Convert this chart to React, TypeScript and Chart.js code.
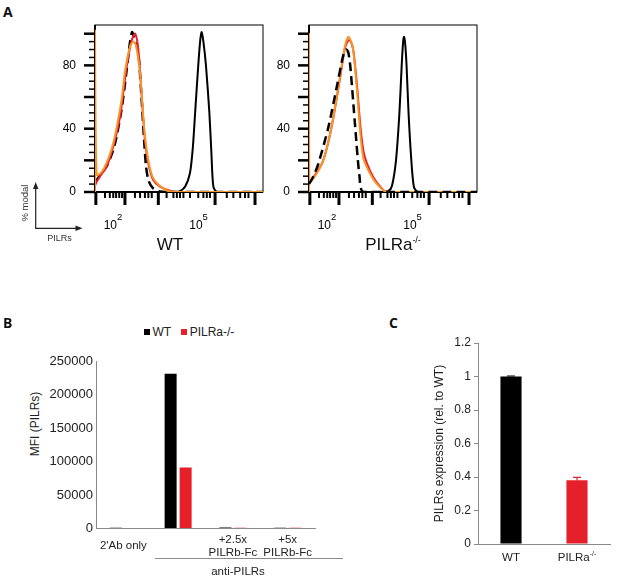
import React, { useEffect, useRef } from 'react';
import { Chart, registerables } from 'chart.js';

Chart.register(...registerables);

const FONT = "'Liberation Sans', Arial, sans-serif";
Chart.defaults.font.family = FONT;

// ---------------- Panel A: flow cytometry histograms ----------------
// x values are log10 fluorescence (decades), y values are % of modal
const histXMin = 1.37;
const histXMax = 7.26;
const histYMax = 105.5;
const histXTickValues = [2, 5];
const histXTickBases = ['10', '10'];
const histXTickExponents = ['2', '5'];
const histYTickValues = [0, 40, 80];
const histYMajorMarks = [0, 20, 40, 60, 80, 100];
const histYMinorMarks = [5, 10, 15, 25, 30, 35, 45, 50, 55, 65, 70, 75, 85, 90, 95];
const histXMajorMarks = [1.4, 2.42, 3.59, 5.58, 6.98];
const histXMinorMarks = [1.72, 1.89, 2.01, 2.11, 2.22, 2.32, 2.77, 2.95, 3.12, 3.24, 3.36, 3.88, 4.12, 4.24, 4.35, 4.47, 4.7, 4.99, 5.17, 5.29, 5.4, 5.99, 6.22, 6.46, 6.63, 6.75];

// WT
const wtIsoX = [1.37, 1.6, 1.8, 2.05, 2.3, 2.5, 2.6, 2.67, 2.74, 2.82, 2.9, 3.0, 3.08, 3.16, 3.25, 3.4, 3.6, 3.9, 7.26];
const wtIsoY = [6, 12, 17, 29, 52, 80, 95, 101, 98, 94, 86, 60, 36, 16, 7, 2.5, 0.5, 0, 0];
const wtAntiX = [1.37, 4.0, 4.3, 4.53, 4.7, 4.8, 4.88, 4.99, 5.06, 5.11, 5.17, 5.26, 5.38, 5.45, 5.52, 5.65, 7.26];
const wtAntiY = [0, 0, 0, 3.4, 12, 28, 50, 80, 96, 101, 95, 80, 50, 25, 3.4, 0, 0];
const wtBlock25X = [1.37, 1.43, 1.54, 1.78, 2.01, 2.25, 2.48, 2.66, 2.78, 2.89, 3.0, 3.12, 3.24, 3.41, 3.65, 4.0, 4.3, 7.26];
const wtBlock25Y = [4, 6.5, 9.7, 16, 28.7, 47.7, 79, 96, 100, 90, 62.6, 33, 18, 7.6, 3.4, 0.8, 0, 0];
const wtBlock5X = [1.37, 1.37, 1.43, 1.66, 2.01, 2.3, 2.42, 2.6, 2.71, 2.8, 2.95, 3.09, 3.24, 3.41, 3.76, 4.1, 7.26];
const wtBlock5Y = [0, 102, 10.8, 14, 30.8, 58, 76, 92, 95, 93, 75, 41, 20, 8.7, 2.3, 0, 0];

// PILRa-/-
const koIsoX = [1.37, 1.5, 1.7, 2.05, 2.35, 2.58, 2.68, 2.75, 2.82, 2.99, 3.14, 3.28, 7.26];
const koIsoY = [5, 9, 18, 41, 67, 87, 90, 88, 79, 41, 10, 0, 0];
const koAntiX = [1.37, 3.9, 4.15, 4.28, 4.42, 4.54, 4.62, 4.67, 4.7, 4.74, 4.79, 4.86, 4.95, 5.05, 5.2, 7.26];
const koAntiY = [0, 0, 0.5, 4, 20, 50, 80, 95, 98, 94, 80, 50, 22, 3, 0, 0];
const koBlock25X = [1.37, 1.55, 1.85, 2.15, 2.45, 2.62, 2.72, 2.8, 2.92, 3.05, 3.18, 3.3, 3.52, 3.75, 4.1, 7.26];
const koBlock25Y = [6, 10, 19, 40, 71, 90, 95, 96, 90, 68, 40, 24, 13, 6, 0, 0];
const koBlock5X = [1.37, 1.37, 1.38, 1.58, 1.87, 2.16, 2.46, 2.63, 2.75, 2.9, 3.04, 3.17, 3.28, 3.5, 3.73, 4.09, 7.26];
const koBlock5Y = [0, 100, 6.5, 10, 20, 41, 73, 92, 98, 92, 67, 37, 21, 12, 5.5, 0, 0];

const RED = '#E5202A';
const ORANGE = '#F5962A';

type Curve = { x: number[]; y: number[]; color: string; width: number; dash?: number[] };

const wtCurves: Curve[] = [
  { x: wtBlock5X, y: wtBlock5Y, color: ORANGE, width: 2 },
  { x: wtBlock25X, y: wtBlock25Y, color: RED, width: 2 },
  { x: wtIsoX, y: wtIsoY, color: '#000', width: 2.5, dash: [9, 5] },
  { x: wtAntiX, y: wtAntiY, color: '#000', width: 2 },
];
const koCurves: Curve[] = [
  { x: koIsoX, y: koIsoY, color: '#000', width: 2.5, dash: [9, 5] },
  { x: koBlock5X, y: koBlock5Y, color: ORANGE, width: 2 },
  { x: koBlock25X, y: koBlock25Y, color: RED, width: 2 },
  { x: koAntiX, y: koAntiY, color: '#000', width: 2 },
];

const histFramePlugin = {
  id: 'histFrame',
  beforeDatasetsDraw(chart: any) {
    const { ctx, chartArea: a, scales } = chart;
    const xs = scales.x;
    const ys = scales.y;
    const seg = (x1: number, y1: number, x2: number, y2: number, w: number) => {
      ctx.lineWidth = w;
      ctx.beginPath();
      ctx.moveTo(x1, y1);
      ctx.lineTo(x2, y2);
      ctx.stroke();
    };
    ctx.save();
    ctx.strokeStyle = '#000';
    ctx.lineWidth = 1;
    ctx.strokeRect(a.left, a.top, a.right - a.left, a.bottom - a.top);
    seg(a.left, a.top, a.left, a.bottom + 1, 2);
    seg(a.left - 1, a.bottom, a.right, a.bottom, 2);
    histYMajorMarks.forEach((v) => {
      const p = ys.getPixelForValue(v);
      seg(a.left - 11, p, a.left, p, 2.5);
    });
    histYMinorMarks.forEach((v) => {
      const p = ys.getPixelForValue(v);
      seg(a.left - 6, p, a.left, p, 1.5);
    });
    histXMajorMarks.forEach((v) => {
      const p = xs.getPixelForValue(v);
      seg(p, a.bottom, p, a.bottom + 13, 3);
    });
    histXMinorMarks.forEach((v) => {
      const p = xs.getPixelForValue(v);
      seg(p, a.bottom, p, a.bottom + 6, 2);
    });
    // decade labels with raised exponents
    ctx.fillStyle = '#000';
    ctx.textBaseline = 'middle';
    ctx.textAlign = 'left';
    histXTickValues.forEach((v, i) => {
      const p = xs.getPixelForValue(v);
      ctx.font = `12px ${FONT}`;
      const wb = ctx.measureText(histXTickBases[i]).width;
      ctx.font = `9.5px ${FONT}`;
      const we = ctx.measureText(histXTickExponents[i]).width;
      const start = p - (wb + we) / 2;
      const yMid = a.bottom + 34;
      ctx.font = `12px ${FONT}`;
      ctx.fillText(histXTickBases[i], start, yMid);
      ctx.font = `9.5px ${FONT}`;
      ctx.fillText(histXTickExponents[i], start + wb, yMid - 8.5);
    });
    ctx.restore();
  },
};

function Histogram({ left, top, curves }: { left: number; top: number; curves: Curve[] }) {
  const ref = useRef<HTMLCanvasElement>(null);
  useEffect(() => {
    const chart = new Chart(ref.current as HTMLCanvasElement, {
      type: 'line',
      data: {
        datasets: curves.map((c) => ({
          data: c.x.map((x, i) => ({ x, y: c.y[i] })),
          borderColor: c.color,
          borderWidth: c.width,
          borderDash: c.dash || [],
          pointRadius: 0,
          tension: 0.25,
          fill: false,
        })),
      },
      options: {
        animation: false,
        responsive: false,
        maintainAspectRatio: false,
        layout: { padding: { top: 15, right: 17, left: 0, bottom: 0 } },
        plugins: { legend: { display: false }, tooltip: { enabled: false } },
        scales: {
          x: {
            type: 'linear',
            min: histXMin,
            max: histXMax,
            grid: { display: false, drawTicks: false },
            border: { display: false },
            afterFit: (s: any) => {
              s.height = 43;
            },
            ticks: { display: false },
          },
          y: {
            type: 'linear',
            min: 0,
            max: histYMax,
            grid: { display: false, drawTicks: true, tickLength: 16, tickColor: 'rgba(0,0,0,0)' },
            border: { display: false },
            afterBuildTicks: (s: any) => {
              s.ticks = histYTickValues.map((v) => ({ value: v }));
            },
            afterFit: (s: any) => {
              s.width = 55;
            },
            ticks: {
              autoSkip: false,
              padding: 3,
              color: '#000',
              font: { size: 12 },
              callback: (v: any) => String(v),
            },
          },
        },
      } as any,
      plugins: [histFramePlugin],
    });
    return () => chart.destroy();
  }, []);
  return (
    <canvas
      ref={ref}
      width={240}
      height={225}
      style={{ position: 'absolute', left, top, width: 240, height: 225 }}
    />
  );
}

// ---------------- Panel B: MFI bar chart ----------------
const mfiCategories = [["2'Ab only"], [''], ['+2.5x', 'PILRb-Fc'], ['+5x', 'PILRb-Fc']];
const mfiWT = [1000, 231000, 1500, 1200];
const mfiKO = [800, 91000, 1300, 1000];
const mfiMax = 250000;
const mfiStep = 50000;
const mfiSeriesNames = ['WT', 'PILRa-/-'];

const AXIS_GRAY = '#8a8a8a';
const TEXT = '#222';

function MfiChart() {
  const ref = useRef<HTMLCanvasElement>(null);
  useEffect(() => {
    const chart = new Chart(ref.current as HTMLCanvasElement, {
      type: 'bar',
      data: {
        labels: mfiCategories as any,
        datasets: [
          { label: mfiSeriesNames[0], data: mfiWT, backgroundColor: '#000' },
          { label: mfiSeriesNames[1], data: mfiKO, backgroundColor: RED },
        ],
      },
      options: {
        animation: false,
        responsive: false,
        maintainAspectRatio: false,
        categoryPercentage: 0.548,
        barPercentage: 0.8,
        layout: { padding: { top: 11, right: 45, left: 0, bottom: 0 } },
        plugins: { legend: { display: false }, tooltip: { enabled: false } },
        scales: {
          x: {
            grid: { display: true, drawOnChartArea: false, drawTicks: false },
            border: { display: true, color: AXIS_GRAY, width: 1 },
            afterFit: (s: any) => {
              s.height = 33.5;
            },
            ticks: {
              autoSkip: false,
              maxRotation: 0,
              padding: 11,
              crossAlign: 'center',
              color: TEXT,
              font: { size: 11.5, lineHeight: 1.13 },
            },
          },
          y: {
            min: 0,
            max: mfiMax,
            grid: { display: true, drawOnChartArea: false, drawTicks: false },
            border: { display: true, color: AXIS_GRAY, width: 1 },
            afterFit: (s: any) => {
              s.width = 96;
            },
            ticks: {
              stepSize: mfiStep,
              padding: 3,
              color: TEXT,
              font: { size: 13 },
              callback: (v: any) => String(v),
            },
          },
        },
      } as any,
    });
    return () => chart.destroy();
  }, []);
  return (
    <canvas
      ref={ref}
      width={360}
      height={212}
      style={{ position: 'absolute', left: 0, top: 350, width: 360, height: 212 }}
    />
  );
}

// ---------------- Panel C: relative expression ----------------
const relCategories = ['WT', 'PILRa'];
const relSuperscripts = ['', '-/-'];
const relValues = [1.0, 0.38];
const relErrors = [0.003, 0.018];
const relColors = ['#000', RED];
const relMax = 1.2;
const relStep = 0.2;
const relTitle = 'PILRs expression (rel. to WT)';

const relExtrasPlugin = {
  id: 'relExtras',
  afterDatasetsDraw(chart: any) {
    const { ctx, scales } = chart;
    const ys = scales.y;
    const xs = scales.x;
    const meta = chart.getDatasetMeta(0);
    ctx.save();
    meta.data.forEach((bar: any, i: number) => {
      const top = ys.getPixelForValue(relValues[i] + relErrors[i]);
      ctx.strokeStyle = relColors[i];
      ctx.lineWidth = 1.2;
      ctx.beginPath();
      ctx.moveTo(bar.x, bar.y);
      ctx.lineTo(bar.x, top);
      ctx.moveTo(bar.x - 4, top);
      ctx.lineTo(bar.x + 4, top);
      ctx.stroke();
    });
    ctx.fillStyle = TEXT;
    ctx.textBaseline = 'middle';
    ctx.textAlign = 'left';
    relCategories.forEach((cat, i) => {
      const cx = xs.getPixelForValue(i);
      const yMid = xs.top + 14;
      ctx.font = `11.5px ${FONT}`;
      const w1 = ctx.measureText(cat).width;
      ctx.font = `7px ${FONT}`;
      const w2 = relSuperscripts[i] ? ctx.measureText(relSuperscripts[i]).width : 0;
      const start = cx - (w1 + w2) / 2;
      ctx.font = `11.5px ${FONT}`;
      ctx.fillText(cat, start, yMid);
      if (relSuperscripts[i]) {
        ctx.font = `7px ${FONT}`;
        ctx.fillText(relSuperscripts[i], start + w1, yMid - 4);
      }
    });
    ctx.restore();
  },
};

function RelChart() {
  const ref = useRef<HTMLCanvasElement>(null);
  useEffect(() => {
    const chart = new Chart(ref.current as HTMLCanvasElement, {
      type: 'bar',
      data: {
        labels: relCategories,
        datasets: [{ data: relValues, backgroundColor: relColors }],
      },
      options: {
        animation: false,
        responsive: false,
        maintainAspectRatio: false,
        categoryPercentage: 1,
        barPercentage: 0.32,
        layout: { padding: { top: 13, right: 7, left: 0, bottom: 0 } },
        plugins: { legend: { display: false }, tooltip: { enabled: false } },
        scales: {
          x: {
            grid: { display: true, drawOnChartArea: false, drawTicks: false },
            border: { display: true, color: AXIS_GRAY, width: 1 },
            ticks: { display: false },
            afterFit: (s: any) => {
              s.height = 26;
            },
          },
          y: {
            min: 0,
            max: relMax,
            grid: { display: true, drawOnChartArea: false, drawTicks: true, tickLength: 4, tickColor: AXIS_GRAY },
            border: { display: true, color: AXIS_GRAY, width: 1 },
            afterFit: (s: any) => {
              s.width = 78;
            },
            title: {
              display: true,
              text: relTitle,
              color: TEXT,
              font: { size: 12 },
              padding: { top: 32, bottom: 0 },
            },
            ticks: {
              stepSize: relStep,
              padding: 3,
              color: TEXT,
              font: { size: 12 },
              callback: (v: any) => String(Math.round(Number(v) * 10) / 10),
            },
          },
        },
      } as any,
      plugins: [relExtrasPlugin],
    });
    return () => chart.destroy();
  }, []);
  return (
    <canvas
      ref={ref}
      width={217}
      height={240}
      style={{ position: 'absolute', left: 400, top: 330, width: 217, height: 240 }}
    />
  );
}

// ---------------- Layout helpers ----------------
const centered = (cx: number, cy: number, extra: React.CSSProperties = {}): React.CSSProperties => ({
  position: 'absolute',
  left: cx,
  top: cy,
  transform: 'translate(-50%, -50%)',
  whiteSpace: 'nowrap',
  lineHeight: 1,
  ...extra,
});

const letterStyle = (left: number, top: number): React.CSSProperties => ({
  position: 'absolute',
  left,
  top,
  fontFamily: "'Open Sans', sans-serif",
  fontWeight: 700,
  fontSize: 14,
  lineHeight: '14px',
  color: '#111',
});

export default function App() {
  return (
    <div
      style={{
        position: 'absolute',
        left: 0,
        top: 0,
        width: 617,
        height: 579,
        background: '#fff',
        fontFamily: FONT,
        overflow: 'hidden',
      }}
    >
      {/* Panel A */}
      <div style={letterStyle(3, 5)}>A</div>
      <Histogram left={40} top={10} curves={wtCurves} />
      <Histogram left={254} top={10} curves={koCurves} />
      <div style={centered(170, 244, { fontSize: 17, color: '#111' })}>WT</div>
      <div style={centered(393, 244, { fontSize: 17, color: '#111' })}>
        PILRa
        <span style={{ fontSize: 9, position: 'relative', top: -7 }}>-/-</span>
      </div>
      <svg
        width={100}
        height={60}
        style={{ position: 'absolute', left: 0, top: 178 }}
        viewBox="0 0 100 60"
      >
        <line x1={35.7} y1={50.3} x2={35.7} y2={7} stroke="#222" strokeWidth={1.2} />
        <polygon points="35.7,4 33,11 38.4,11" fill="#222" />
        <line x1={35.1} y1={50.3} x2={79} y2={50.3} stroke="#222" strokeWidth={1.2} />
        <polygon points="82.5,50.3 75.5,47.6 75.5,53" fill="#222" />
      </svg>
      <div style={centered(25, 203, { fontSize: 9.5, color: '#333', transform: 'translate(-50%, -50%) rotate(-90deg)' })}>
        % modal
      </div>
      <div style={centered(59.5, 238, { fontSize: 9, color: '#333' })}>PILRs</div>

      {/* Panel B */}
      <div style={letterStyle(3, 316)}>B</div>
      <div
        style={{
          position: 'absolute',
          left: 144,
          top: 332,
          transform: 'translateY(-50%)',
          display: 'flex',
          alignItems: 'center',
          fontSize: 12,
          color: TEXT,
          lineHeight: 1,
          whiteSpace: 'nowrap',
        }}
      >
        <span style={{ width: 5.5, height: 5.5, background: '#000', display: 'inline-block', marginRight: 3 }} />
        <span style={{ marginRight: 10 }}>{mfiSeriesNames[0]}</span>
        <span style={{ width: 5.5, height: 5.5, background: RED, display: 'inline-block', marginRight: 3 }} />
        <span>{mfiSeriesNames[1]}</span>
      </div>
      <div style={centered(35, 424, { fontSize: 12, color: TEXT, transform: 'translate(-50%, -50%) rotate(-90deg)' })}>
        MFI (PILRs)
      </div>
      <MfiChart />
      <div style={{ position: 'absolute', left: 155, top: 558, width: 188, height: 0, borderTop: `1px solid ${AXIS_GRAY}` }} />
      <div style={centered(238, 571.5, { fontSize: 11.5, color: TEXT })}>anti-PILRs</div>

      {/* Panel C */}
      <div style={letterStyle(389, 316)}>C</div>
      <RelChart />
    </div>
  );
}
